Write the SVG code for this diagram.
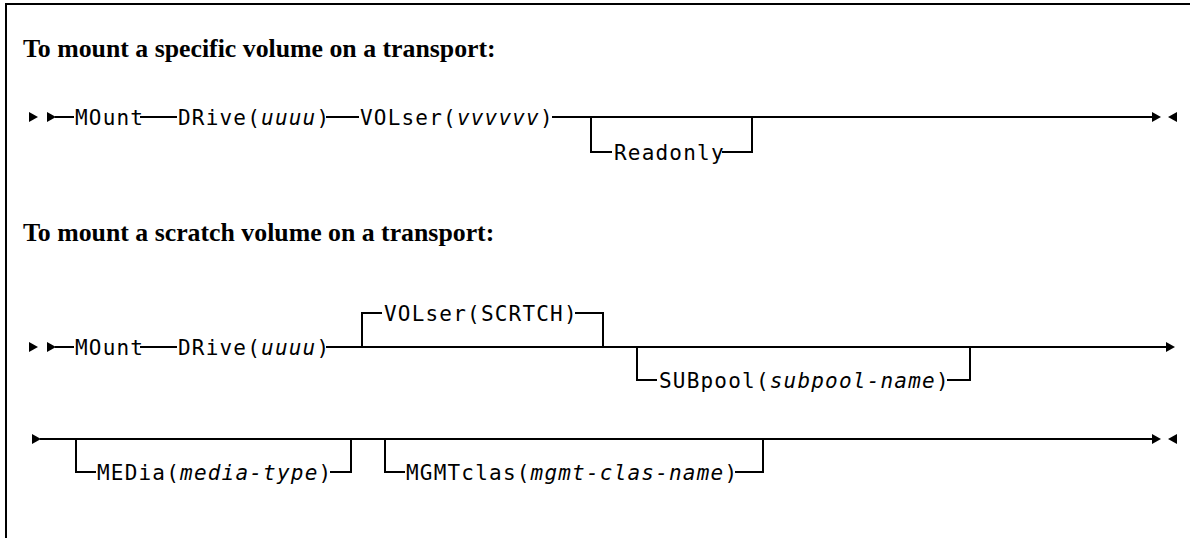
<svg xmlns="http://www.w3.org/2000/svg" xmlns:xlink="http://www.w3.org/1999/xlink" width="1190" height="538" viewBox="0 0 1190 538">
<style>
.title{font-family:"Liberation Serif","Times New Roman",serif;font-weight:bold;font-size:25.8px;fill:#000}
.kw{font-family:"DejaVu Sans Mono","Liberation Mono",monospace;font-size:21px;letter-spacing:1.2px;fill:#000}
.it{font-style:italic}
.ln{fill:none;stroke:#000;stroke-width:2}
.frame{fill:none;stroke:#000;stroke-width:2}
</style>
<defs>
<polygon id="ar" points="0,-5 9,0 0,5" fill="#000"/>
<polygon id="al" points="9,-5 0,0 9,5" fill="#000"/>
</defs>
<rect width="1190" height="538" fill="#fff"/>
<path class="frame" d="M6,538 V4 H1190"/>
<g id="title1"><text class="title" x="23" y="57">To mount a specific volume on a transport:</text></g>
<g id="title2"><text class="title" x="23" y="241">To mount a scratch volume on a transport:</text></g>

<g id="connectors">
<!-- line 1 -->
<use href="#ar" x="29" y="117"/>
<use href="#ar" x="47" y="117"/>
<path class="ln" d="M55,117 H74 M140,117 H177 M326,117 H359 M552,117 H1153"/>
<path class="ln" d="M591,117 V152 H612 M722,152 H752 V117"/>
<use href="#ar" x="1152" y="117"/>
<use href="#al" x="1168" y="117"/>
<!-- line 2 -->
<use href="#ar" x="29" y="347"/>
<use href="#ar" x="47" y="347"/>
<path class="ln" d="M55,347 H74 M140,347 H177 M326,347 H1166"/>
<path class="ln" d="M362,347 V313 H382 M575,313 H603 V347"/>
<path class="ln" d="M637,347 V380 H657 M947,380 H970 V347"/>
<use href="#ar" x="1166" y="347"/>
<!-- line 3 -->
<use href="#ar" x="32" y="439"/>
<path class="ln" d="M40,439 H1153"/>
<path class="ln" d="M76,439 V472 H96 M330,472 H351 V439"/>
<path class="ln" d="M385,439 V472 H405 M735,472 H763 V439"/>
<use href="#ar" x="1152" y="439"/>
<use href="#al" x="1168" y="439"/>
</g>

<g id="mount1"><text class="kw" x="75" y="124.5">MOunt</text></g>
<g id="drive1"><text class="kw" x="178" y="124.5">DRive(<tspan class="it">uuuu</tspan>)</text></g>
<g id="volser1"><text class="kw" x="360" y="124.5">VOLser(<tspan class="it">vvvvvv</tspan>)</text></g>
<g id="readonly"><text class="kw" x="614" y="159.5">Readonly</text></g>

<g id="mount2"><text class="kw" x="75" y="354.5">MOunt</text></g>
<g id="drive2"><text class="kw" x="178" y="354.5">DRive(<tspan class="it">uuuu</tspan>)</text></g>
<g id="volser2"><text class="kw" x="384" y="320.5">VOLser(SCRTCH)</text></g>
<g id="subpool"><text class="kw" x="659" y="387.5">SUBpool(<tspan class="it">subpool-name</tspan>)</text></g>

<g id="media"><text class="kw" x="97" y="479.5">MEDia(<tspan class="it">media-type</tspan>)</text></g>
<g id="mgmtclas"><text class="kw" x="406" y="479.5">MGMTclas(<tspan class="it">mgmt-clas-name</tspan>)</text></g>
</svg>
